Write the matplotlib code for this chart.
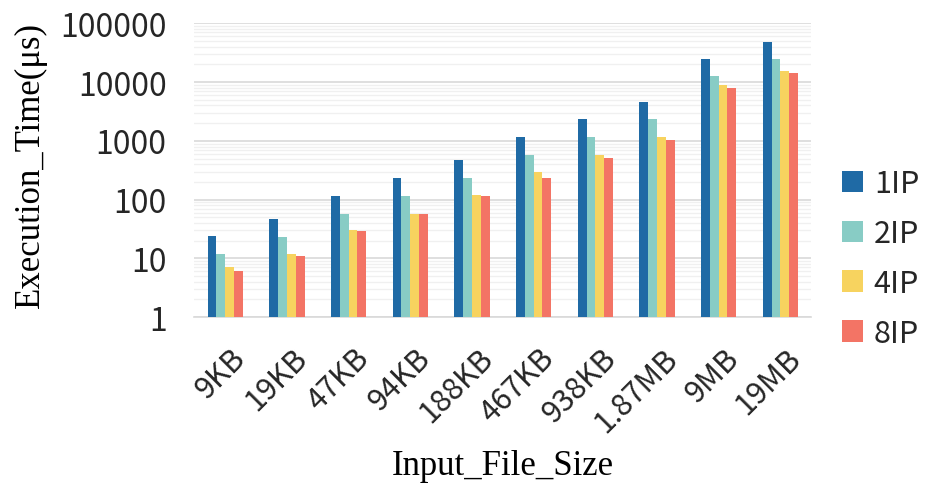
import numpy as np
import matplotlib
matplotlib.use('Agg')
import matplotlib.pyplot as plt
import matplotlib.transforms as mtransforms
from matplotlib.ticker import LogLocator, FixedLocator

sizes = ['9KB', '19KB', '47KB', '94KB', '188KB', '467KB', '938KB', '1.87MB', '9MB', '19MB']
ip1 = [24, 47, 116, 232, 463, 1165, 2330, 4650, 24300, 47900]
ip2 = [12, 23, 58, 116, 232, 576, 1165, 2330, 12500, 25000]
ip4 = [7, 12, 30, 58, 118, 290, 580, 1165, 8800, 15600]
ip8 = [6, 11, 29.5, 58, 115, 232, 520, 1050, 8000, 14400]
series = ['1IP', '2IP', '4IP', '8IP']
colors = ['#1f6aa5', '#88ccc5', '#f7d35f', '#f37465']

fig = plt.figure(figsize=(9.26, 4.85), dpi=100)
ax = fig.add_axes([0.21, 0.344, 0.666, 0.606])

x = np.arange(len(sizes))
w = 0.143
data = [ip1, ip2, ip4, ip8]
for k in range(4):
    ax.bar(x + (k - 1.5) * w, data[k], w, color=colors[k], label=series[k], zorder=3)

ax.set_yscale('log')
ax.set_ylim(1, 100000)
ax.set_xlim(-0.5, len(sizes) - 0.5)
ax.yaxis.set_major_locator(FixedLocator([1, 10, 100, 1000, 10000, 100000]))
ax.yaxis.set_minor_locator(LogLocator(base=10, subs=np.arange(2, 10)))
ax.set_yticklabels(['1', '10', '100', '1000', '10000', '100000'])
ax.grid(axis='y', which='major', color='#d9d9d9', lw=1.2, zorder=0)
ax.grid(axis='y', which='minor', color='#f0f0f0', lw=1.0, zorder=0)
for s in ['top', 'right', 'left']:
    ax.spines[s].set_visible(False)
ax.spines['bottom'].set_color('#d9d9d9')
ax.spines['bottom'].set_linewidth(1.2)
ax.tick_params(axis='both', which='both', length=0)
ax.tick_params(axis='y', pad=20)
ax.tick_params(axis='x', pad=18)

tfont = ['Noto Sans CJK SC', 'DejaVu Sans']
ax.set_xticks(x)
ax.set_xticklabels(sizes, rotation=45, ha='right', rotation_mode='anchor', family=tfont,
                   fontsize=22, color='#262626', fontweight='light')
# nudge labels a little to the right like the original
off = mtransforms.ScaledTranslation(5 / 100, 0, fig.dpi_scale_trans)
for t in ax.get_xticklabels():
    t.set_transform(t.get_transform() + off)
for t in ax.get_yticklabels():
    t.set_family(tfont)
    t.set_fontsize(23)
    t.set_fontweight('light')
    t.set_color('#262626')

ax.set_ylabel('Execution_Time(μs)', family='Liberation Serif', fontsize=25, va='center')
ax.yaxis.set_label_coords(-0.266, 0.521)
ax.set_xlabel('Input_File_Size', family='Liberation Serif', fontsize=25, va='center')
ax.xaxis.set_label_coords(0.5, -0.505)

leg = ax.legend(loc='center left', bbox_to_anchor=(1.0, 0.2), frameon=False,
                prop={'family': tfont, 'size': 22, 'weight': 'light'}, handlelength=0.7,
                handleheight=0.7, handletextpad=0.35, labelspacing=0.62, borderaxespad=0.6)
for t in leg.get_texts():
    t.set_color('#262626')

fig.savefig('out.png', dpi=100)
